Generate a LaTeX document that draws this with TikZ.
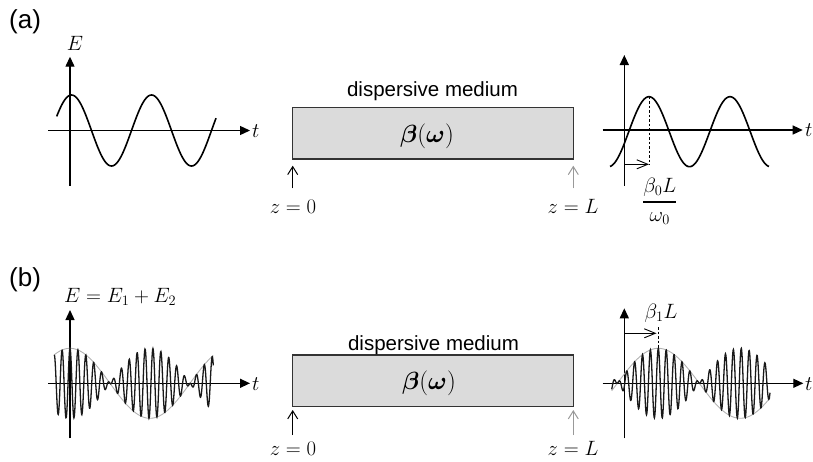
\documentclass[tikz,border=0pt]{standalone}
\usepackage{amsmath}
\usepackage[no-math]{fontspec}
\setmainfont{Liberation Sans}
\usetikzlibrary{arrows.meta}
\begin{document}
\begin{tikzpicture}[x=1pt,y=-1pt,
  axis/.style={line width=1.3pt,-{Triangle[length=10pt,width=9pt]}},
  wave/.style={line width=1.6pt,black},
  env/.style={line width=0.9pt,gray!60},
  carrier/.style={line width=1.3pt,black!90},
  medium/.style={draw=black!80,line width=1.5pt,fill=gray!28,minimum width=280.6pt,minimum height=51.7pt,inner sep=0pt},
  zarrow/.style={line width=1pt,-{Straight Barb[length=8pt,width=10pt]}},
  shiftarrow/.style={line width=0.9pt,-{Straight Barb[length=11pt,width=9pt]}},
  guide/.style={line width=0.9pt,dashed,dash pattern=on 2.5pt off 2pt},
  mathlbl/.style={inner sep=0pt,font=\fontsize{21}{25}\selectfont},
  betalbl/.style={inner sep=0pt,font=\fontsize{25}{29}\selectfont},
  txt/.style={inner sep=0pt,font=\fontsize{20.5}{24}\selectfont},
  panel/.style={inner sep=0pt,font=\fontsize{26}{30}\selectfont}]
\useasboundingbox (0,0) rectangle (813,461);

% ---------------- panel (a) ----------------
\node[panel,anchor=base west] (pa) at (9,28) {(a)};
% left axes
\coordinate (aLy0) at (70,185.7);
\coordinate (aLy1) at (70,56.7);
\coordinate (aLx0) at (48,130.5);
\coordinate (aLx1) at (250,130.5);
\draw[axis] (aLy0) -- (aLy1);
\draw[axis] (aLx0) -- (aLx1);
\node[mathlbl,anchor=base] (Ea) at (75,50) {$E$};
\node[mathlbl,anchor=base west] (ta) at (252,137) {$t$};
\draw[wave] plot[domain=56.7:216,samples=140,smooth] (\x,{130.5-35.5*cos(4.5*(\x-71.5))});

% medium
\node[medium] (boxA) at (433,133.15) {};
\node[txt,anchor=base] (dmA) at (432.5,96.7) {dispersive medium};
\node[betalbl,anchor=base] (bA) at (427,142) {$\boldsymbol{\beta}(\boldsymbol{\omega})$};
\coordinate (za0t) at (292.7,188.3);
\coordinate (za0h) at (292.7,165.7);
\coordinate (zaLt) at (573.3,188.3);
\coordinate (zaLh) at (573.3,165.7);
\draw[zarrow] (za0t) -- (za0h);
\draw[zarrow,gray!80] (zaLt) -- (zaLh);
\node[mathlbl,anchor=base] (z0a) at (293,213) {$z=0$};
\node[mathlbl,anchor=base] (zLa) at (573,213) {$z=L$};

% right axes
\coordinate (aRy0) at (624.3,185.7);
\coordinate (aRy1) at (624.3,55);
\coordinate (aRx0) at (602.7,130);
\coordinate (aRx1) at (802.7,130);
\draw[axis] (aRy0) -- (aRy1);
\draw[axis] (aRx0) -- (aRx1);
\node[mathlbl,anchor=base west] (tRa) at (805,136.5) {$t$};
\draw[wave] plot[domain=610:769,samples=140,smooth] (\x,{131.7-35*cos(4.44444*(\x-649))});
\coordinate (pkA) at (649,96.7);
\coordinate (pkAb) at (649,164.3);
\coordinate (shA0) at (624.3,164.3);
\draw[guide] (pkA) -- (pkAb);
\draw[shiftarrow] (shA0) -- (pkAb);
\node[mathlbl,anchor=base] (fracA) at (659.7,207) {$\genfrac{}{}{1.6pt}{0}{\beta_0 L}{\omega_0}$};

% ---------------- panel (b) ----------------
\node[panel,anchor=base west] (pb) at (9,286.5) {(b)};
\coordinate (bLy0) at (70,438.3);
\coordinate (bLy1) at (70,310);
\coordinate (bLx0) at (48,383.3);
\coordinate (bLx1) at (250,383.3);
\draw[axis] (bLy0) -- (bLy1);
\draw[axis] (bLx0) -- (bLx1);
\node[mathlbl,anchor=base west] (Eb) at (64,302) {$E=E_1+E_2$};
\node[mathlbl,anchor=base west] (tb) at (252,390) {$t$};
\draw[env] plot[domain=54.3:213.3,samples=100,smooth] (\x,{383.3-35*cos(2.25*(\x-70))});
\draw[carrier] plot[domain=54.3:213.3,samples=520] (\x,{383.3-35*cos(2.25*(\x-70))*cos(45.5696*(\x-70))});

% medium
\node[medium] (boxB) at (433,380.85) {};
\node[txt,anchor=base] (dmB) at (433.5,350) {dispersive medium};
\node[betalbl,anchor=base] (bB) at (429,389) {$\boldsymbol{\beta}(\boldsymbol{\omega})$};
\coordinate (zb0t) at (292.7,435);
\coordinate (zb0h) at (292.7,410);
\coordinate (zbLt) at (573.3,435);
\coordinate (zbLh) at (573.3,410);
\draw[zarrow] (zb0t) -- (zb0h);
\draw[zarrow,gray!80] (zbLt) -- (zbLh);
\node[mathlbl,anchor=base] (z0b) at (293,455) {$z=0$};
\node[mathlbl,anchor=base] (zLb) at (573,455) {$z=L$};

% right axes
\coordinate (bRy0) at (624.3,438.3);
\coordinate (bRy1) at (624.3,308.3);
\coordinate (bRx0) at (602.7,383.3);
\coordinate (bRx1) at (803.3,383.3);
\draw[axis] (bRy0) -- (bRy1);
\draw[axis] (bRx0) -- (bRx1);
\node[mathlbl,anchor=base west] (tRb) at (805,390) {$t$};
\draw[env] plot[domain=611.7:770,samples=100,smooth] (\x,{383.3-35*cos(2.19512*(\x-658.3))});
\draw[carrier] plot[domain=611.7:770,samples=520] (\x,{383.3-35*cos(2.19512*(\x-658.3))*cos(45.5696*(\x-658.3))});
\coordinate (pkB) at (658.3,348.3);
\coordinate (pkBt) at (658.3,327);
\coordinate (shB1) at (656.5,333.3);
\coordinate (shB0) at (624.3,333.3);
\draw[guide] (pkBt) -- (pkB);
\draw[shiftarrow] (shB0) -- (shB1);
\node[mathlbl,anchor=base] (b1L) at (661,318) {$\beta_1 L$};
\end{tikzpicture}
\end{document}
